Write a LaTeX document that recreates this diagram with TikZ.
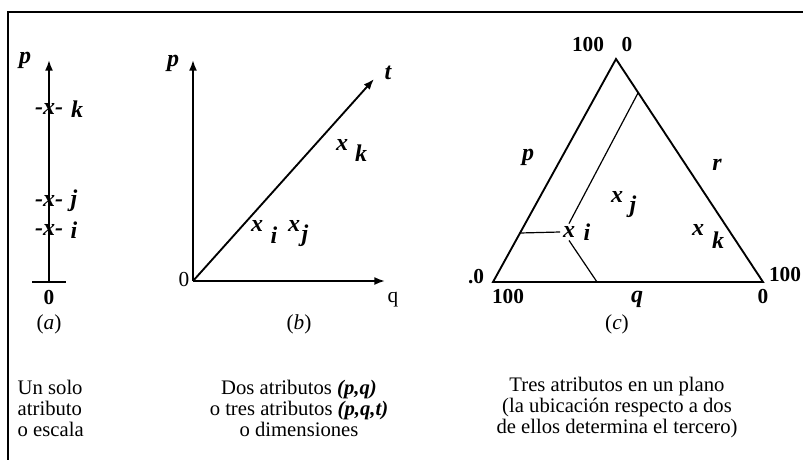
\documentclass[tikz,border=0pt]{standalone}
\usepackage{fontspec}
\setmainfont{Liberation Serif}
\usetikzlibrary{arrows.meta}

\tikzset{
  axisarrow/.style={line width=1.4pt, -{Latex[length=8pt,width=6pt]}},
  sideline/.style={line width=1.4pt},
  guide/.style={line width=0.9pt},
  lbl/.style={font=\fontsize{18}{20}\selectfont\bfseries\itshape, inner sep=1pt},
  num/.style={font=\fontsize{16}{18}\selectfont\bfseries, inner sep=0pt},
  plain/.style={font=\fontsize{16}{18}\selectfont, inner sep=0pt},
  capt/.style={font=\fontsize{15.5}{15.75}\selectfont, align=center},
}

\begin{document}
\begin{tikzpicture}[x=0.75pt, y=-0.75pt]
\useasboundingbox (0,0) rectangle (803,460);
%% Frame
\coordinate (fbl) at (8,460);
\coordinate (ftl) at (8,12);
\coordinate (ftr) at (803,12);
\draw[line width=1.6pt] (fbl) -- (ftl) -- (ftr);
%% Panel (a): one attribute
\coordinate (a-o) at (49,282);
\coordinate (a-top) at (49,60);
\coordinate (a-bl) at (32,282);
\coordinate (a-br) at (66,282);
\draw[axisarrow] (a-o) -- (a-top);
\draw[sideline] (a-bl) -- (a-br);
\node[lbl] (a-p) at (25,60) {p};
\node[lbl] (a-xk) at (49,109) {-x-};
\node[lbl] (a-k) at (77,109) {k};
\node[lbl] (a-xj) at (49,201) {-x-};
\node[lbl] (a-j) at (74,201) {j};
\node[lbl] (a-xi) at (49,230) {-x-};
\node[lbl] (a-i) at (74,230) {i};
\node[num] (a-zero) at (49,298) {0};
\node[plain] (a-cap) at (49,324) {(\textit{a})};
\node[capt, anchor=west, align=left] (a-txt) at (13,408) {Un solo\\atributo\\o escala};
%% Panel (b): two or three attributes
\coordinate (b-o) at (193,281);
\coordinate (b-ptop) at (193,60);
\coordinate (b-qend) at (385,281);
\coordinate (b-tend) at (374,79);
\draw[axisarrow] (b-o) -- (b-ptop);
\draw[axisarrow] (b-o) -- (b-qend);
\draw[axisarrow] (b-o) -- (b-tend);
\node[lbl] (b-p) at (173,63) {p};
\node[plain] (b-zero) at (184,280) {0};
\node[plain] (b-q) at (393,300) {q};
\node[lbl] (b-t) at (388,73) {t};
\node[lbl] (b-xi) at (257,226) {x};
\node[lbl] (b-i) at (274,235) {i};
\node[lbl] (b-xj) at (294,226) {x};
\node[lbl] (b-j) at (305,236) {j};
\node[lbl] (b-xk) at (342,145) {x};
\node[lbl] (b-k) at (361,153) {k};
\node[plain] (b-cap) at (299,324) {(\textit{b})};
\node[capt] (b-txt) at (299,408) {Dos atributos \textbf{\textit{(p,q)}}\\o tres atributos \textbf{\textit{(p,q,t)}}\\o dimensiones};
%% Panel (c): ternary plot
\coordinate (c-top) at (616,59);
\coordinate (c-bl) at (493,282);
\coordinate (c-br) at (763,282);
\draw[sideline, line join=miter] (c-top) -- (c-bl) -- (c-br) -- cycle;
\node[lbl, inner sep=2pt] (c-xi) at (569,232) {x};
\node[lbl] (c-i) at (587,232) {i};
\coordinate (c-hl) at (520,233);
\coordinate (c-rr) at (638,93);
\coordinate (c-bb) at (597,282);
\draw[guide] (c-hl) -- (c-xi.west);
\draw[guide] (c-rr) -- (c-xi.north);
\draw[guide] (c-xi.south) -- (c-bb);
\node[lbl] (c-xj) at (617,197) {x};
\node[lbl] (c-j) at (633,207) {j};
\node[lbl] (c-xk) at (698,230) {x};
\node[lbl] (c-k) at (718,240) {k};
\node[lbl] (c-p) at (528,157) {p};
\node[lbl] (c-r) at (717,165) {r};
\node[num] (c-100t) at (588,45) {100};
\node[num] (c-0t) at (627,45) {0};
\node[num] (c-0l) at (476,277) {.0};
\node[num] (c-100r) at (785,275) {100};
\node[num] (c-100b) at (508,297) {100};
\node[lbl] (c-q) at (637,299) {q};
\node[num] (c-0b) at (763,297) {0};
\node[plain] (c-cap) at (617,324) {(\textit{c})};
\node[capt] (c-txt) at (617,408) {Tres atributos en un plano\\(la ubicación respecto a dos\\de ellos determina el tercero)};
\end{tikzpicture}
\end{document}
